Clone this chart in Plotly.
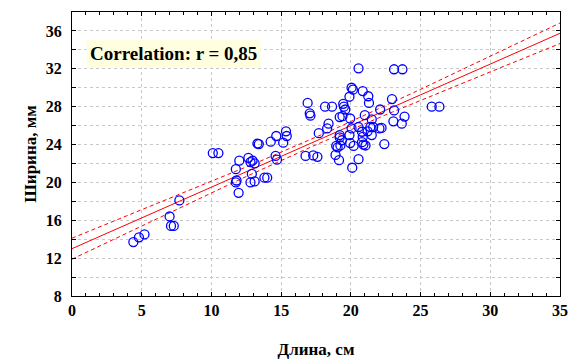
import numpy as np
import plotly.graph_objects as go

# Scatter data: length (cm) vs width (mm)
length_cm = [4.4, 4.8, 5.2, 7.0, 7.1, 7.3, 7.7, 10.1, 10.5,
             11.95, 11.75, 11.8, 11.75, 12.0, 12.65, 12.8, 12.95, 13.1, 12.9, 12.8, 13.1,
             13.8, 14.0, 14.6, 14.7, 13.4, 13.3, 14.25, 14.65, 15.35, 15.4, 15.15,
             16.75, 17.3, 17.6, 16.9, 17.05, 17.1, 17.7, 18.15, 18.65, 18.4, 18.3,
             18.9, 19.15, 18.95, 19.05, 19.25, 19.2, 19.35, 19.2, 19.5, 19.6, 19.45,
             19.2, 19.4, 19.95, 19.9, 20.05, 20.15, 20.85, 20.55, 21.25, 21.3,
             20.05, 20.55, 21.0, 21.5, 21.4, 21.6, 20.8, 21.2, 19.9, 19.95, 20.2,
             20.85, 20.8, 21.5, 20.9, 21.05, 22.05, 22.2, 22.4, 20.55, 20.1,
             22.1, 22.95, 23.1, 23.05, 23.65, 23.85, 23.1, 23.7, 25.8, 26.35]
width_mm = [13.7, 14.2, 14.5, 16.4, 15.4, 15.4, 18.1, 23.1, 23.1,
            18.9, 20.0, 20.2, 21.4, 22.3, 22.6, 22.15, 22.3, 22.0, 20.9, 20.0, 20.1,
            20.5, 20.5, 22.8, 22.4, 24.05, 24.1, 24.3, 24.9, 25.4, 24.9, 24.2,
            22.8, 22.85, 22.7, 28.4, 27.3, 27.05, 25.2, 28.0, 28.0, 26.2, 25.7,
            22.9, 22.35, 23.85, 23.7, 23.9, 25.0, 24.45, 24.75, 28.0, 27.7, 28.3,
            26.9, 27.0, 26.75, 29.05, 30.0, 29.8, 29.65, 32.05, 29.1, 28.4,
            25.7, 25.85, 27.1, 26.65, 25.85, 25.85, 25.35, 25.4, 25.0, 24.15, 23.85,
            24.8, 24.25, 25.0, 24.0, 23.9, 25.7, 25.75, 24.05, 22.45, 21.55,
            27.7, 28.8, 27.6, 26.45, 26.2, 26.95, 31.95, 31.95, 28.0, 28.0]

# Regression line and 95% band parameters
reg_intercept = 13.0
reg_slope = 0.65
band_center_x = 17.7
band_half_center = 0.40
band_curv = 0.0034

annotation_text = "Correlation: r = 0,85"
x_title = "Длина, см"
y_title = "Ширина, мм"

xs = np.linspace(0, 35, 71)
fit = reg_intercept + reg_slope * xs
half = np.sqrt(band_half_center ** 2 + band_curv * (xs - band_center_x) ** 2)

serif = "Liberation Serif"

fig = go.Figure()
fig.add_trace(go.Scatter(x=xs, y=fit, mode="lines",
                         line=dict(color="red", width=1), showlegend=False, hoverinfo="skip"))
fig.add_trace(go.Scatter(x=xs, y=fit + half, mode="lines",
                         line=dict(color="red", width=1, dash="4px,3px"), showlegend=False, hoverinfo="skip"))
fig.add_trace(go.Scatter(x=xs, y=fit - half, mode="lines",
                         line=dict(color="red", width=1, dash="4px,3px"), showlegend=False, hoverinfo="skip"))
fig.add_trace(go.Scatter(x=length_cm, y=width_mm, mode="markers",
                         marker=dict(symbol="circle-open", size=9, color="#0000ff",
                                     line=dict(width=1.3, color="#0000ff")),
                         showlegend=False))

fig.add_annotation(x=7.25, y=33.65, xref="x", yref="y", text="<b>" + annotation_text + "</b>",
                   showarrow=False, bgcolor="#ffffe0", borderpad=3,
                   font=dict(family=serif, size=19, color="black"))

tfont = dict(family=serif, size=16, color="black", weight="bold")

fig.update_xaxes(range=[0, 35], dtick=5, tick0=0, showline=True, linecolor="black", linewidth=1.2,
                 mirror="ticks", ticks="inside", ticklen=4, tickcolor="black",
                 showgrid=True, gridcolor="#c8c8c8", griddash="dot", gridwidth=1,
                 zeroline=False, automargin=False,
                 minor=dict(dtick=1, ticks="inside", ticklen=3, tickcolor="black", showgrid=False),
                 tickfont=tfont,
                 title=dict(text="<b>" + x_title + "</b>", font=dict(family=serif, size=17, color="black"),
                            standoff=24))
fig.update_yaxes(range=[8, 38], dtick=4, tick0=8, showline=True, linecolor="black", linewidth=1.2,
                 mirror="ticks", ticks="inside", ticklen=4, tickcolor="black",
                 showgrid=True, gridcolor="#c8c8c8", griddash="dot", gridwidth=1,
                 zeroline=False, automargin=False,
                 minor=dict(dtick=2, ticks="inside", ticklen=4, tickcolor="black", showgrid=True,
                            gridcolor="#c8c8c8", griddash="dot", gridwidth=1),
                 tickfont=tfont, ticklabelstandoff=6,
                 title=dict(text="<b>" + y_title + "</b>", font=dict(family=serif, size=17, color="black"),
                            standoff=4))

fig.update_layout(width=570, height=360, margin=dict(l=72, r=10, t=12, b=64, autoexpand=False),
                  plot_bgcolor="white", paper_bgcolor="white", showlegend=False)

fig.write_html("out.html", config={"displayModeBar": False},
               post_script="document.body.style.margin='0px';")
